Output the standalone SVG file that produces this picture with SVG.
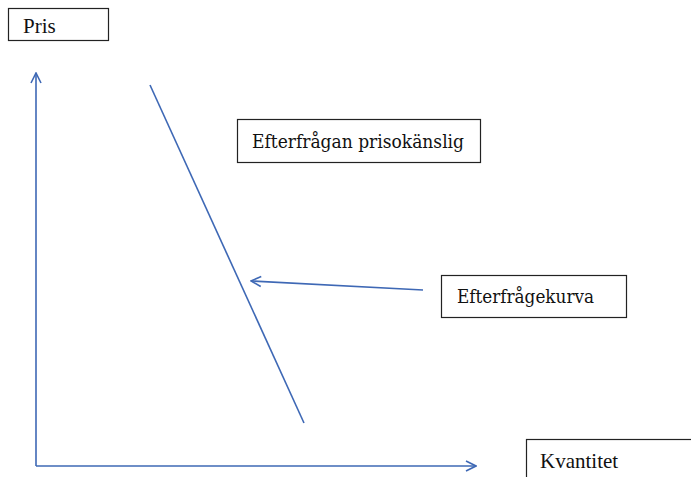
<svg xmlns="http://www.w3.org/2000/svg" width="691" height="477" viewBox="0 0 691 477">
<style>
.box{fill:#fff;stroke:#222;stroke-width:1.2}
.lbl{font-family:"Liberation Serif","Times New Roman",serif;font-size:21px;fill:#111}
.geo{font-family:"DejaVu Serif","Liberation Serif",serif;font-size:18px;fill:#111}
.ln{stroke:#3e68b5;stroke-width:1.6;fill:none}
</style>
<defs>
<marker id="ah" viewBox="0 0 12 12" refX="11" refY="6" markerWidth="12" markerHeight="12" markerUnits="userSpaceOnUse" orient="auto">
<path d="M1,1 L11,6 L1,11" fill="none" stroke="#3e68b5" stroke-width="1.6"/>
</marker>
</defs>
<rect width="691" height="477" fill="#fff"/>
<g id="connectors">
<line class="ln" x1="36" y1="466" x2="36" y2="73" marker-end="url(#ah)"/>
<line class="ln" x1="36" y1="466" x2="476" y2="466" marker-end="url(#ah)"/>
<line class="ln" x1="150" y1="85" x2="304" y2="423"/>
<line class="ln" x1="423" y1="290" x2="251" y2="281" marker-end="url(#ah)"/>
</g>
<g id="pris">
<rect class="box" x="8.5" y="8.5" width="100" height="32"/>
<text class="lbl" x="23" y="33">Pris</text>
</g>
<g id="prisokanslig">
<rect class="box" x="237.5" y="119.5" width="243" height="43"/>
<text class="geo" x="252" y="148" textLength="212" lengthAdjust="spacingAndGlyphs">Efterfrågan prisokänslig</text>
</g>
<g id="kurva">
<rect class="box" x="441.5" y="275.5" width="185" height="42"/>
<text class="geo" x="457" y="303" textLength="137" lengthAdjust="spacingAndGlyphs">Efterfrågekurva</text>
</g>
<g id="kvantitet">
<rect class="box" x="526.5" y="439.5" width="170" height="45"/>
<text class="lbl" x="540" y="468">Kvantitet</text>
</g>
</svg>
